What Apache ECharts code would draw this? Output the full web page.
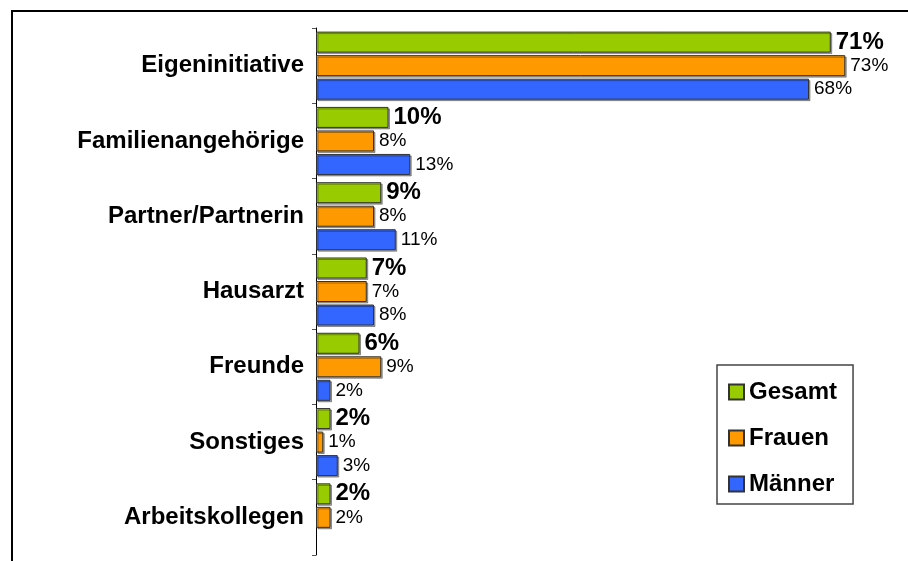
<!DOCTYPE html>
<html>
<head>
<meta charset="utf-8">
<script src="https://cdn.jsdelivr.net/npm/echarts@6/dist/echarts.min.js"></script>
<style>
  html, body { margin: 0; padding: 0; background: #fff; }
  #chart { width: 908px; height: 561px; }
</style>
</head>
<body>
<div id="chart"></div>
<script>
// Who initiated the first step, broken down overall and by sex (percent)
const categories = ['Eigeninitiative', 'Familienangehörige', 'Partner/Partnerin', 'Hausarzt', 'Freunde', 'Sonstiges', 'Arbeitskollegen'];
const seriesNames = ['Gesamt', 'Frauen', 'Männer'];
const gesamt = [71, 10, 9, 7, 6, 2, 2];
const frauen = [73, 8, 8, 7, 9, 1, 2];
const maenner = [68, 13, 11, 8, 2, 3, null];

const FONT = '"Liberation Sans", Arial, sans-serif';
const barBorder = '#333333';

function barSeries(name, data, color, bold) {
  return {
    name: name,
    type: 'bar',
    data: data,
    barWidth: 21,
    barGap: '12%',
    itemStyle: {
      color: color,
      borderColor: barBorder,
      borderWidth: 1,
      shadowColor: 'rgba(0,0,0,0.35)',
      shadowOffsetX: 1.5,
      shadowOffsetY: 1.5,
      shadowBlur: 0
    },
    label: {
      show: true,
      position: 'right',
      distance: 5,
      formatter: '{c}%',
      color: '#000',
      fontFamily: FONT,
      fontSize: bold ? 24 : 19,
      fontWeight: bold ? 'bold' : 'normal'
    },
    emphasis: { disabled: true }
  };
}

const chart = echarts.init(document.getElementById('chart'), null, { renderer: 'canvas' });
chart.setOption({
  backgroundColor: '#fff',
  animation: false,
  graphic: [{
    type: 'rect',
    shape: { x: 12, y: 11, width: 1200, height: 1200 },
    style: { fill: 'none', stroke: '#000', lineWidth: 2 },
    silent: true
  }],
  grid: { left: 316, top: 28, width: 580, height: 527, containLabel: false },
  xAxis: {
    type: 'value',
    min: 0,
    max: 80,
    show: false
  },
  yAxis: {
    type: 'category',
    data: categories,
    inverse: true,
    axisLine: { show: true, lineStyle: { color: '#000', width: 1 } },
    axisTick: { show: true, length: 4, lineStyle: { color: '#555' } },
    axisLabel: {
      margin: 12,
      color: '#000',
      fontFamily: FONT,
      fontSize: 24,
      fontWeight: 'bold'
    },
    splitLine: { show: false }
  },
  legend: {
    data: seriesNames,
    orient: 'vertical',
    left: 717,
    top: 365,
    padding: [15, 16, 8, 11],
    itemGap: 22,
    itemWidth: 15,
    itemHeight: 15,
    icon: 'rect',
    borderColor: '#444',
    borderWidth: 1.5,
    backgroundColor: '#fff',
    textStyle: {
      color: '#000',
      fontFamily: FONT,
      fontSize: 24,
      fontWeight: 'bold'
    },
    selectedMode: false
  },
  series: [
    barSeries('Gesamt', gesamt, '#99CC00', true),
    barSeries('Frauen', frauen, '#FF9900', false),
    barSeries('Männer', maenner, '#3366FF', false)
  ]
});
</script>
</body>
</html>
